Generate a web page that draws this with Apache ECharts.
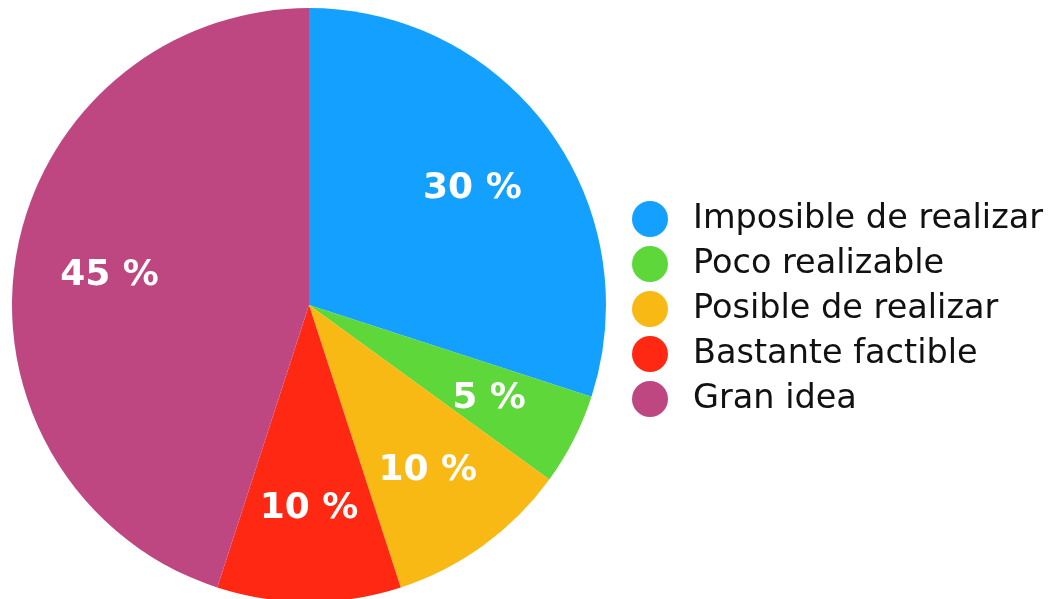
<!DOCTYPE html>
<html><head><meta charset="utf-8">
<script src="https://cdn.jsdelivr.net/npm/echarts@6/dist/echarts.min.js"></script>
<style>html,body{margin:0;padding:0;background:#fff}#c{width:1048px;height:599px}</style>
</head><body><div id="c"></div>
<script>
const categories = ['Imposible de realizar','Poco realizable','Posible de realizar','Bastante factible','Gran idea'];
const values = [30, 5, 10, 10, 45];
const colors = ['#14A0FF','#5DD73A','#F9B914','#FF2913','#BE4782'];

const chart = echarts.init(document.getElementById('c'));
const data = categories.map((n,i)=>({name:n,value:values[i],itemStyle:{color:colors[i]}}));
chart.setOption({
  animation:false,
  legend:{
    orient:'vertical', left:627, top:196,
    data:categories,
    icon:'circle', itemWidth:36, itemHeight:36, itemGap:9,
    textStyle:{fontFamily:'DejaVu Sans', fontSize:33.5, color:'#111', padding:[0,0,0,20]},
    selectedMode:false
  },
  series:[
    {type:'pie', center:[309,305], radius:[0,297], startAngle:90, clockwise:true,
     silent:true, label:{show:false}, labelLine:{show:false}, itemStyle:{borderWidth:0}, data:data},
    {type:'pie', center:[309,307], radius:[0,398], startAngle:90, clockwise:true,
     silent:true, itemStyle:{color:'rgba(0,0,0,0)',borderWidth:0},
     label:{show:true, position:'inside', formatter:p=>p.value+' %', color:'#fff',
       fontFamily:'DejaVu Sans', fontWeight:'bold', fontSize:36},
     labelLine:{show:false},
     data:categories.map((n,i)=>({name:n,value:values[i]}))}
  ]
});
</script></body></html>
